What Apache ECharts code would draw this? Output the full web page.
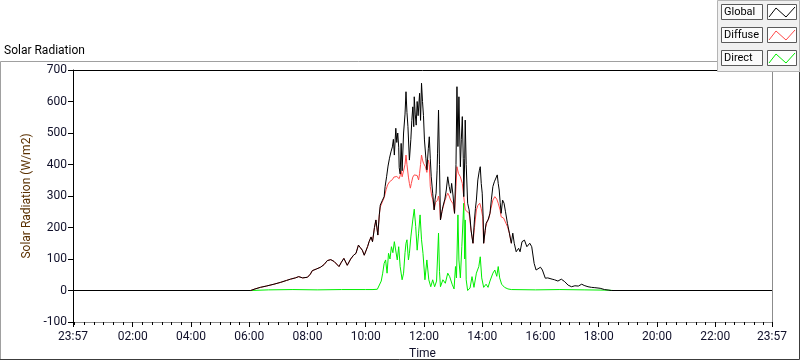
<!DOCTYPE html>
<html>
<head>
<meta charset="utf-8">
<script src="https://cdn.jsdelivr.net/npm/echarts@6/dist/echarts.min.js"></script>
<style>
  html, body { margin: 0; padding: 0; background: #fff; }
  #chart { width: 800px; height: 361px; }
</style>
</head>
<body>
<div id="chart"></div>
<script>
// time = minutes after 00:00, value = W/m2
var globalPts = [
  [-3,0],[363,0],[366,2],[372,5],[383,10],[395,14],[411,20],[425,26],[437,32],[445,36],[455,40],[462,44],
  [470,40],[480,42],[486,52],[490,63],[498,68],[507,74],[514,82],[521,95],[528,98],[535,92],[540,84],[545,76],
  [550,90],[555,102],[562,80],[569,100],[575,112],[580,118],[585,144],[589,136],[593,128],[597,112],[600,107],
  [604,140],[607,155],[611,170],[614,155],[618,200],[621,224],[625,176],[628,240],[630,271],[634,285],[638,298],
  [640,330],[643,361],[646,395],[649,420],[652,440],[655,456],[657,480],[659,430],[662,515],[664,470],[666,500],
  [668,455],[669,390],[671,370],[673,467],[675,380],[678,500],[681,560],[683,631],[685,565],[687,520],[690,414],
  [693,480],[695,540],[697,583],[699,520],[700,615],[702,560],[704,525],[706,600],[708,555],[711,626],[713,540],
  [715,658],[717,600],[719,555],[721,478],[724,420],[726,383],[729,450],[731,488],[733,420],[735,361],[738,309],
  [741,256],[743,290],[745,309],[747,380],[748,436],[750,573],[752,400],[754,224],[757,250],[759,266],[763,290],
  [766,319],[769,361],[772,330],[775,309],[777,340],[780,300],[783,245],[786,400],[788,647],[790,457],[792,615],
  [795,393],[797,480],[799,552],[801,420],[802,298],[804,420],[805,541],[807,400],[810,277],[813,256],[815,230],
  [817,192],[819,170],[821,150],[824,224],[826,260],[828,287],[831,351],[834,380],[836,393],[838,340],[840,309],
  [842,230],[843,150],[846,190],[848,213],[852,224],[856,245],[859,290],[862,330],[865,345],[868,340],[871,367],
  [873,340],[875,319],[877,280],[879,245],[882,287],[885,277],[888,250],[892,213],[896,182],[900,150],[903,182],
  [906,150],[910,123],[915,134],[918,123],[922,155],[927,160],[932,139],[938,150],[942,139],[947,86],[951,65],
  [955,60],[960,74],[964,65],[970,39],[975,40],[979,37],[984,36],[989,34],[996,30],[1003,36],[1010,28],[1017,17],
  [1024,12],[1031,15],[1038,14],[1045,20],[1050,16],[1058,12],[1065,10],[1072,9],[1083,7],[1092,3],[1106,0],[1437,0]
];

// diffuse follows global until ~10:30, then these readings
var diffuseLate = [
  [630,265],[634,280],[638,295],[642,320],[645,335],[649,345],[652,340],[655,352],[658,360],[661,355],[664,362],
  [667,365],[669,355],[671,365],[673,380],[675,361],[678,380],[681,400],[683,430],[685,400],[688,360],[690,340],
  [692,325],[694,340],[697,360],[700,367],[703,372],[706,365],[709,351],[711,372],[713,400],[715,430],[717,414],
  [719,404],[721,400],[723,393],[726,375],[729,414],[731,400],[733,330],[736,300],[738,290],[741,256],[744,280],
  [748,287],[750,300],[752,280],[754,224],[757,250],[759,262],[763,285],[766,298],[769,309],[772,300],[775,287],
  [780,275],[783,245],[786,330],[788,393],[791,372],[795,361],[799,340],[802,298],[805,256],[808,250],[813,245],
  [817,192],[821,150],[824,200],[828,256],[831,270],[835,277],[838,260],[841,234],[843,150],[847,200],[850,218],
  [854,230],[858,260],[862,287],[866,298],[870,290],[873,277],[877,255],[879,234],[884,230],[888,224],[892,203],
  [896,182],[900,150]
];

var directPts = [
  [-3,0],[363,0],[366,2],[400,2],[450,3],[500,2],[550,3],[600,3],[615,3],[624,4],[628,10],[632,30],[635,55],
  [638,86],[641,97],[644,55],[647,118],[650,100],[653,139],[656,120],[659,155],[662,155],[665,97],[668,139],
  [671,76],[673,76],[675,34],[678,55],[681,120],[683,150],[685,161],[688,97],[690,118],[693,170],[697,224],
  [700,258],[703,203],[706,128],[709,182],[712,240],[715,161],[718,118],[722,34],[726,97],[730,34],[734,12],
  [738,34],[742,12],[746,30],[750,182],[752,60],[754,12],[759,34],[764,23],[769,55],[773,44],[778,20],[782,5],
  [785,76],[787,40],[790,240],[792,97],[795,40],[798,139],[802,277],[804,100],[805,224],[807,34],[810,0],
  [815,8],[819,44],[823,10],[828,55],[833,76],[836,107],[839,40],[843,10],[848,20],[852,10],[856,30],[862,55],
  [866,65],[870,45],[873,76],[876,40],[880,20],[886,10],[893,5],[900,3],[950,2],[1000,3],[1050,2],[1100,1],
  [1110,0],[1290,0],[1292,2],[1295,0],[1310,0],[1312,2],[1316,0],[1437,0]
];

var legendNames = ['Global', 'Diffuse', 'Direct'];
var lineColors = ['#000000', '#ff4a4a', '#00ee00'];
var labelTicks = [-3, 120, 240, 360, 480, 600, 720, 840, 960, 1080, 1200, 1320, 1437];

var diffusePts = globalPts.filter(function (p) { return p[0] < 630; }).concat(diffuseLate);

var minorTicks = [0];
for (var m = 20; m < 1437; m += 20) {
  if (m % 120 !== 0) minorTicks.push(m);
}

var font = 'Roboto, "Liberation Sans", sans-serif';
var txt = '#10102a';

function fmtTime(v) {
  if (v < 0 || v >= 1437) return '23:57';
  var h = Math.floor(v / 60), mm = v % 60;
  return (h < 10 ? '0' : '') + h + ':' + (mm < 10 ? '0' : '') + mm;
}

// legend boxes (LabVIEW style plot legend), drawn above the plot frame
var legendGraphics = [
  { type: 'rect', z: 100, shape: { x: 717.5, y: 0.5, width: 82, height: 71 },
    style: { fill: '#f0f0f0', stroke: '#b4b4b4', lineWidth: 1 }, silent: true }
];
legendNames.forEach(function (name, i) {
  var y0 = 4 + i * 23;
  legendGraphics.push({
    type: 'rect', z: 101, shape: { x: 721.5, y: y0 + 0.5, width: 41, height: 15 },
    style: { fill: '#fbfbfb', stroke: '#5a5a5a', lineWidth: 1 }, silent: true
  });
  legendGraphics.push({
    type: 'text', z: 102, x: 724, y: y0 + 8.5,
    style: { text: name, fill: '#000', font: '11px ' + font, verticalAlign: 'middle' }, silent: true
  });
  legendGraphics.push({
    type: 'rect', z: 101, shape: { x: 767.5, y: y0 + 0.5, width: 29, height: 15 },
    style: { fill: '#ffffff', stroke: '#5a5a5a', lineWidth: 1 }, silent: true
  });
  legendGraphics.push({
    type: 'polyline', z: 102,
    shape: { points: [[769, y0 + 13], [776, y0 + 4], [786, y0 + 13], [795, y0 + 3]] },
    style: { stroke: lineColors[i], lineWidth: 1, fill: null }, silent: true
  });
});

var option = {
  backgroundColor: '#ffffff',
  animation: false,
  title: {
    text: 'Solar Radiation', left: 4, top: 45, padding: 0,
    textStyle: { fontSize: 12, fontWeight: 'normal', color: '#000', fontFamily: font }
  },
  grid: { left: 73, top: 70, right: 28, bottom: 39, containLabel: false, outerBoundsMode: 'none' },
  xAxis: [
    {
      type: 'value', min: -3, max: 1437, position: 'bottom',
      name: 'Time', nameLocation: 'middle', nameGap: 25,
      nameTextStyle: { fontSize: 12, color: txt, fontFamily: font },
      axisLine: { show: true, onZero: false, lineStyle: { color: '#8c8c8c', width: 1 } },
      axisTick: { show: true, length: 5, customValues: labelTicks, lineStyle: { color: '#000' } },
      axisLabel: { customValues: labelTicks, formatter: fmtTime, margin: 9, fontSize: 12, color: txt, fontFamily: font },
      splitLine: { show: false }
    },
    {
      type: 'value', min: -3, max: 1437, position: 'bottom',
      axisLine: { show: false, onZero: false },
      axisTick: { show: true, length: 3, customValues: minorTicks, lineStyle: { color: '#000' } },
      axisLabel: { show: false }, splitLine: { show: false }
    },
    {
      type: 'value', min: -3, max: 1437, position: 'top',
      axisLine: { show: true, onZero: false, lineStyle: { color: '#000', width: 1 } },
      axisTick: { show: false }, axisLabel: { show: false }, splitLine: { show: false }
    }
  ],
  yAxis: [
    {
      type: 'value', min: -100, max: 700, interval: 100, position: 'left',
      name: 'Solar Radiation (W/m2)', nameLocation: 'middle', nameGap: 36,
      nameTextStyle: { fontSize: 12, color: '#5a3000', fontFamily: font },
      axisLine: { show: true, onZero: false, lineStyle: { color: '#000', width: 1 } },
      axisTick: { show: true, length: 5, lineStyle: { color: '#000' } },
      axisLabel: { margin: 6, fontSize: 12, color: txt, fontFamily: font },
      splitLine: { show: false }
    },
    {
      type: 'value', min: -100, max: 700, interval: 100, position: 'right',
      axisLine: { show: true, onZero: false, lineStyle: { color: '#8c8c8c', width: 1 } },
      axisTick: { show: false }, axisLabel: { show: false }, splitLine: { show: false }
    }
  ],
  series: [
    { name: 'Direct', type: 'line', data: directPts, showSymbol: false, symbol: 'none',
      lineStyle: { color: lineColors[2], width: 1 }, itemStyle: { color: lineColors[2] } },
    { name: 'Diffuse', type: 'line', data: diffusePts, showSymbol: false, symbol: 'none',
      lineStyle: { color: lineColors[1], width: 1 }, itemStyle: { color: lineColors[1] } },
    { name: 'Global', type: 'line', data: globalPts, showSymbol: false, symbol: 'none',
      lineStyle: { color: lineColors[0], width: 1 }, itemStyle: { color: lineColors[0] } }
  ],
  graphic: [
    // outer panel frame
    { type: 'polyline', shape: { points: [[0.5, 360], [0.5, 61.5], [717, 61.5]] },
      style: { stroke: '#a0a0a0', lineWidth: 1, fill: null }, silent: true },
    { type: 'polyline', shape: { points: [[0, 359.5], [799.5, 359.5], [799.5, 72]] },
      style: { stroke: '#3c3c3c', lineWidth: 1, fill: null }, silent: true }
  ].concat(legendGraphics)
};

var chart = echarts.init(document.getElementById('chart'));
chart.setOption(option);
</script>
</body>
</html>
